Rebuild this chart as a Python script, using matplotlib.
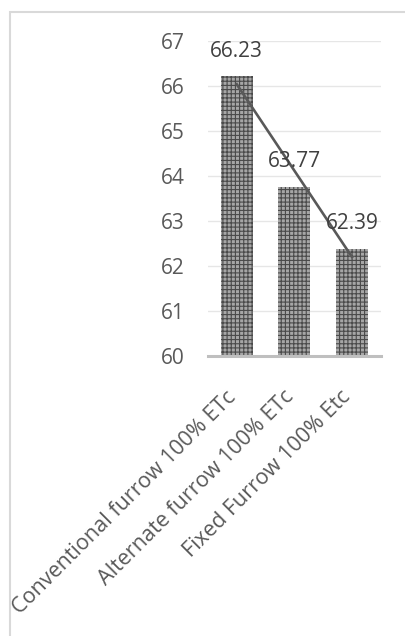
import numpy as np
import matplotlib
matplotlib.use("Agg")
import matplotlib.pyplot as plt
from matplotlib.patches import Rectangle
from matplotlib.transforms import ScaledTranslation

# irrigation treatments and their values
treatments = ["Conventional furrow 100% ETc",
              "Alternate furrow 100% ETc",
              "Fixed Furrow 100% Etc"]
values = [66.23, 63.77, 62.39]
y_ticks = [60, 61, 62, 63, 64, 65, 66, 67]

plt.rcParams['font.family'] = ['Open Sans', 'DejaVu Sans']
plt.rcParams['hatch.linewidth'] = 0.8

fig = plt.figure(figsize=(4.06, 6.36), dpi=100)
ax = fig.add_axes([0.512, 0.4395, 0.426, 0.4953])

# chart frame (light border)
fig.add_artist(Rectangle((10 / 406, -0.1), 1.2, 1 - 12 / 636 + 0.1,
                         transform=fig.transFigure, fill=False,
                         edgecolor='#d9d9d9', linewidth=1.5))

x = np.arange(len(values))
ax.bar(x, values, width=0.555, bottom=0, color='#a6a6a6',
       edgecolor='#4a4a4a', linewidth=0, hatch='++++', zorder=2)

# linear trend line
slope, intercept = np.polyfit(x, values, 1)
ax.plot(x, slope * x + intercept, color='#595959', linewidth=1.9, zorder=3)

for xi, v in zip(x, values):
    ax.annotate(f"{v:.2f}", (xi, v), xytext=(0, 18), textcoords='offset points',
                ha='center', va='center', fontsize=15, color='#404040', zorder=4)

ax.set_ylim(60, 67)
ax.set_xlim(-0.5, 2.5)
ax.set_yticks(y_ticks)
ax.yaxis.grid(True, color='#e6e6e6', linewidth=1)
ax.set_axisbelow(True)
for s in ['top', 'right', 'left']:
    ax.spines[s].set_visible(False)
ax.spines['bottom'].set_color('#bfbfbf')
ax.spines['bottom'].set_linewidth(2.2)
ax.spines['bottom'].set_zorder(5)
ax.tick_params(axis='y', length=0, pad=17, labelsize=15, labelcolor='#595959')
ax.tick_params(axis='x', length=0, pad=27)
ax.set_xticks(x)
ax.set_xticklabels(treatments, rotation=45, ha='right', va='center',
                   rotation_mode='anchor', fontsize=15.5, color='#595959')
# nudge the rotated labels slightly left
shift = ScaledTranslation(-3 / 72, 0, fig.dpi_scale_trans)
for lbl in ax.get_xticklabels():
    lbl.set_transform(lbl.get_transform() + shift)

fig.savefig("out.png", dpi=100)
